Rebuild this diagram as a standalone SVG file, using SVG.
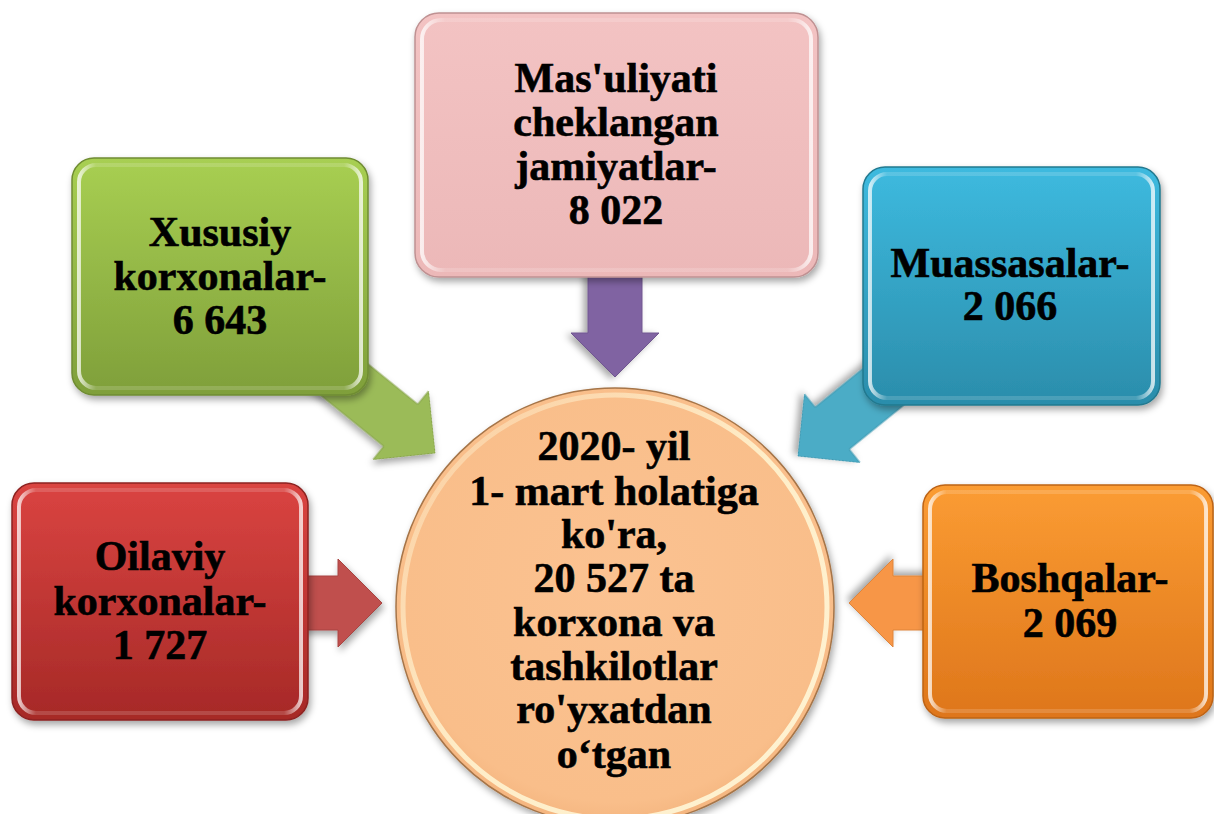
<svg xmlns="http://www.w3.org/2000/svg" width="1214" height="814" viewBox="0 0 1214 814">
<defs>
<filter id="sh" x="-20%" y="-20%" width="140%" height="140%">
<feDropShadow dx="2" dy="4" stdDeviation="3.5" flood-color="#000" flood-opacity="0.35"/>
</filter>
<linearGradient id="gGreen" x1="0" y1="0" x2="0" y2="1"><stop offset="0" stop-color="#A8CF52"/><stop offset="1" stop-color="#7F9F3A"/></linearGradient>
<linearGradient id="gPink" x1="0" y1="0" x2="0" y2="1"><stop offset="0" stop-color="#F3C3C3"/><stop offset="1" stop-color="#ECB8B8"/></linearGradient>
<linearGradient id="gBlue" x1="0" y1="0" x2="0" y2="1"><stop offset="0" stop-color="#3DBADF"/><stop offset="1" stop-color="#2B8DAB"/></linearGradient>
<linearGradient id="gRed" x1="0" y1="0" x2="0" y2="1"><stop offset="0" stop-color="#DA4441"/><stop offset="1" stop-color="#A62927"/></linearGradient>
<linearGradient id="gOrange" x1="0" y1="0" x2="0" y2="1"><stop offset="0" stop-color="#FB9C33"/><stop offset="1" stop-color="#DE761B"/></linearGradient>
<linearGradient id="hl" x1="0" y1="0" x2="1" y2="0">
<stop offset="0" stop-color="#fff" stop-opacity="0.75"/><stop offset="0.06" stop-color="#fff" stop-opacity="0.15"/>
<stop offset="0.94" stop-color="#fff" stop-opacity="0.15"/><stop offset="1" stop-color="#fff" stop-opacity="0.75"/>
</linearGradient>
<radialGradient id="gCirc" cx="0.5" cy="0.45" r="0.55"><stop offset="0" stop-color="#FBC291"/><stop offset="0.9" stop-color="#F9BE8A"/><stop offset="1" stop-color="#F4B57F"/></radialGradient>
<linearGradient id="cRim" x1="0" y1="0" x2="1" y2="1"><stop offset="0" stop-color="#FFF6D8" stop-opacity="0.2"/><stop offset="0.5" stop-color="#FFF3CF" stop-opacity="0.9"/><stop offset="1" stop-color="#FFF6D8" stop-opacity="0.95"/></linearGradient>
<path id="arw" d="M0,0 L-44,-44 L-44,-27 L-160,-27 L-160,27 L-44,27 L-44,44 Z"/>
</defs>
<style>
.box{stroke-width:1.5}
.hl{fill:none;stroke:url(#hl);stroke-width:4}
.t{font-family:"Liberation Serif","Times New Roman",serif;font-weight:bold;font-size:42px;fill:#000;stroke:#000;stroke-width:0.6;text-anchor:middle}
.a{filter:url(#sh)}
</style>
<rect width="1214" height="814" fill="#fff"/>
<g id="connectors">
<use href="#arw" class="a" fill="#9BBB59" stroke="#86A34A" stroke-width="1" transform="translate(435,453) rotate(39)"/>
<use href="#arw" class="a" fill="#4BACC6" stroke="#3F98B0" stroke-width="1" transform="translate(798,456) rotate(141)"/>
<use href="#arw" class="a" fill="#8064A2" stroke="#705690" stroke-width="1" transform="translate(615,377) rotate(90)"/>
<use href="#arw" class="a" fill="#C0504D" stroke="#A84542" stroke-width="1" transform="translate(382,603)"/>
<use href="#arw" class="a" fill="#F79646" stroke="#DE853C" stroke-width="1" transform="translate(849,603) rotate(180)"/>
</g>
<g id="node-green">
<rect class="box" x="72" y="158" width="296" height="237" rx="22" fill="url(#gGreen)" stroke="#6F8C33" filter="url(#sh)"/>
<rect class="hl" x="79" y="165" width="282" height="223" rx="17"/>
<text class="t" x="220" y="246">Xususiy</text>
<text class="t" x="220" y="290">korxonalar-</text>
<text class="t" x="220" y="334">6 643</text>
</g>
<g id="node-pink">
<rect class="box" x="415" y="13" width="403" height="264" rx="24" fill="url(#gPink)" stroke="#BF9192" filter="url(#sh)"/>
<rect class="hl" x="422" y="20" width="389" height="250" rx="19"/>
<text class="t" x="616" y="92">Mas'uliyati</text>
<text class="t" x="616" y="136">cheklangan</text>
<text class="t" x="616" y="180">jamiyatlar-</text>
<text class="t" x="616" y="224">8 022</text>
</g>
<g id="node-blue">
<rect class="box" x="863" y="167" width="297" height="238" rx="22" fill="url(#gBlue)" stroke="#22798F" filter="url(#sh)"/>
<rect class="hl" x="870" y="174" width="283" height="224" rx="17"/>
<text class="t" x="1010" y="277">Muassasalar-</text>
<text class="t" x="1010" y="320">2 066</text>
</g>
<g id="node-red">
<rect class="box" x="12" y="483" width="296" height="237" rx="22" fill="url(#gRed)" stroke="#8C2220" filter="url(#sh)"/>
<rect class="hl" x="19" y="490" width="282" height="223" rx="17"/>
<text class="t" x="160" y="570">Oilaviy</text>
<text class="t" x="160" y="615">korxonalar-</text>
<text class="t" x="160" y="659">1 727</text>
</g>
<g id="node-orange">
<rect class="box" x="923" y="485" width="290" height="233" rx="22" fill="url(#gOrange)" stroke="#BD6314" filter="url(#sh)"/>
<rect class="hl" x="930" y="492" width="276" height="219" rx="17"/>
<text class="t" x="1070" y="592">Boshqalar-</text>
<text class="t" x="1070" y="637">2 069</text>
</g>
<g id="node-center">
<circle cx="615" cy="607" r="219" fill="url(#gCirc)" stroke="#A67548" stroke-width="1.5" filter="url(#sh)"/>
<circle cx="615" cy="607" r="212" fill="none" stroke="url(#cRim)" stroke-width="5"/>
<text class="t" x="614" y="460">2020- yil</text>
<text class="t" x="614" y="505">1- mart holatiga</text>
<text class="t" x="614" y="548">ko'ra,</text>
<text class="t" x="614" y="592">20 527 ta</text>
<text class="t" x="614" y="636">korxona va</text>
<text class="t" x="614" y="680">tashkilotlar</text>
<text class="t" x="614" y="723">ro'yxatdan</text>
<text class="t" x="614" y="768">o‘tgan</text>
</g>
</svg>
